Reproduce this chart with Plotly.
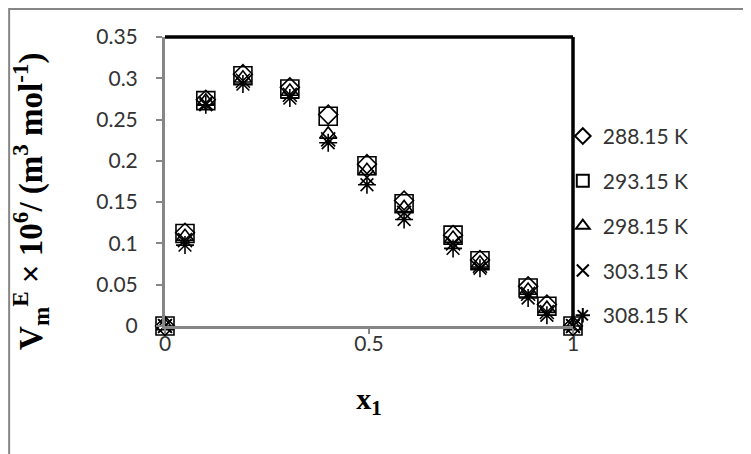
import plotly.graph_objects as go

x1 = [0, 0.049, 0.100, 0.191, 0.306, 0.400, 0.495, 0.586, 0.706, 0.772, 0.890, 0.936, 1.0]
v_288 = [0, 0.113, 0.274, 0.305, 0.289, 0.256, 0.196, 0.152, 0.110, 0.080, 0.048, 0.026, 0]
v_293 = [0, 0.112, 0.273, 0.303, 0.287, 0.254, 0.194, 0.148, 0.110, 0.079, 0.046, 0.024, 0]
v_298 = [0, 0.108, 0.272, 0.300, 0.284, 0.232, 0.188, 0.143, 0.106, 0.076, 0.043, 0.021, 0]
v_303 = [0, 0.104, 0.270, 0.297, 0.280, 0.226, 0.180, 0.137, 0.100, 0.073, 0.039, 0.017, 0]
v_308 = [0, 0.098, 0.268, 0.293, 0.276, 0.222, 0.171, 0.129, 0.094, 0.070, 0.034, 0.013, 0]

names = ["288.15 K", "293.15 K", "298.15 K", "303.15 K", "308.15 K"]
series = [v_288, v_293, v_298, v_303, v_308]
symbols = ["diamond-open", "square-open", "triangle-up-open", "x-thin-open", "asterisk-open"]
sizes = [14.5, 18, 15, 14, 15]

fig = go.Figure()
for i, (nm, vals) in enumerate(zip(names, series)):
    fig.add_trace(go.Scatter(
        x=x1, y=vals, mode="markers", name=nm, legendgroup=nm,
        cliponaxis=False,
        marker=dict(symbol=symbols[i], size=sizes[i], color="black",
                    line=dict(color="black", width=1.6)),
    ))

ytitle = "<b>V<sub>m</sub><sup>E</sup> × 10<sup>6</sup>/ (m<sup>3</sup> mol<sup>-1</sup>)</b>"

fig.update_layout(
    width=751, height=454,
    margin=dict(l=157, r=186, t=29, b=136),
    paper_bgcolor="white", plot_bgcolor="white",
    font=dict(family="Lato", size=21, color="#333333"),
    showlegend=True,
    legend=dict(x=0.975, y=0.727, xanchor="left", yanchor="top",
                itemsizing="constant",
                tracegroupgap=14.5, font=dict(size=21, color="#333333"),
                bgcolor="rgba(0,0,0,0)"),
    xaxis=dict(range=[0, 1], tickvals=[0, 0.5, 1], ticktext=["0", "0.5", "1"],
               automargin=False,
               showline=True, linecolor="#868686", linewidth=3,
               ticks="outside", ticklen=5, tickcolor="#868686", tickwidth=2,
               ticklabelstandoff=-8,
               showgrid=False, zeroline=False,
               title=dict(text="<b>x<sub>1</sub></b>",
                          font=dict(family="Liberation Serif", size=30, color="black"),
                          standoff=34)),
    yaxis=dict(range=[0, 0.35], tickvals=[0, 0.05, 0.1, 0.15, 0.2, 0.25, 0.3, 0.35],
               ticktext=["0", "0.05", "0.1", "0.15", "0.2", "0.25", "0.3", "0.35"],
               automargin=False,
               showline=True, linecolor="#868686", linewidth=3,
               ticks="outside", ticklen=6, tickcolor="#868686", tickwidth=2,
               ticklabelstandoff=14,
               showgrid=False, zeroline=False),
    annotations=[
        dict(text=ytitle, xref="paper", yref="paper", x=-0.331, y=0.4325,
             xanchor="center", yanchor="middle", textangle=-90, showarrow=False,
             font=dict(family="Liberation Serif", size=33, color="black")),
    ],
    shapes=[
        dict(type="line", xref="paper", yref="paper", x0=0, x1=1, y0=1, y1=1,
             line=dict(color="black", width=3.5), layer="below"),
        dict(type="line", xref="paper", yref="paper", x0=1, x1=1, y0=0, y1=1,
             line=dict(color="black", width=3.5), layer="below"),
        dict(type="rect", xref="paper", yref="paper", x0=-0.382, x1=1.5, y0=-0.5, y1=1.097,
             line=dict(color="#868686", width=2), fillcolor="rgba(0,0,0,0)", layer="below"),
    ],
)

fig.write_html("out.html")
